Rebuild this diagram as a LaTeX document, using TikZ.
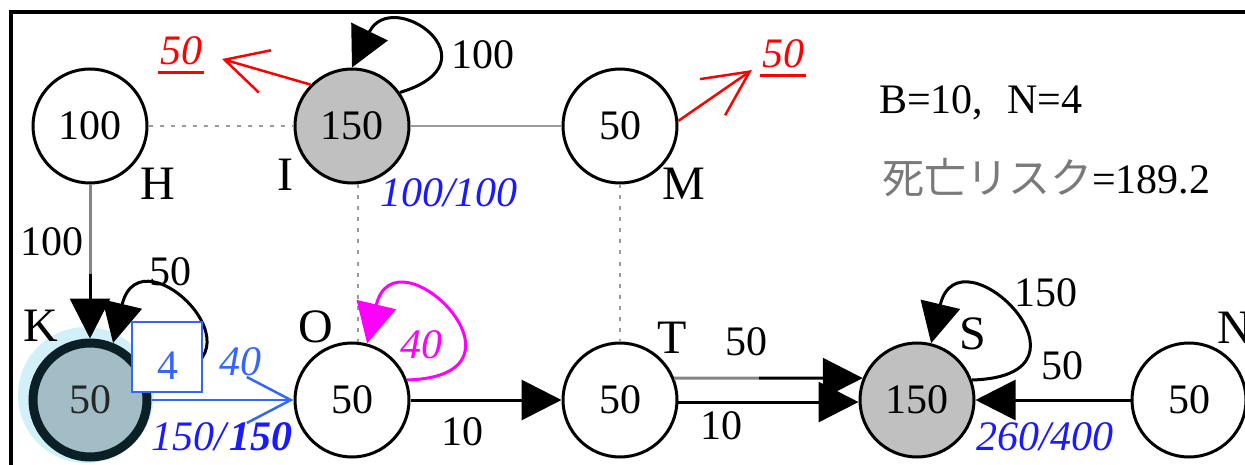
\documentclass[tikz,border=0pt]{standalone}
\usepackage{fontspec}
\setmainfont{Liberation Serif}
\newfontfamily\jpfont{Noto Sans CJK JP}
\usetikzlibrary{arrows.meta,calc}

\definecolor{nodegray}{HTML}{C0C0C0}
\definecolor{linkgray}{HTML}{9A9A9A}
\definecolor{halfgray}{HTML}{858585}
\definecolor{outred}{HTML}{FF0000}
\definecolor{loopmag}{HTML}{FF00FF}
\definecolor{flowblue}{HTML}{3366FF}
\definecolor{capblue}{HTML}{1A1AFF}
\definecolor{kfill}{HTML}{A3BDC6}
\definecolor{kring}{HTML}{0B1F26}
\definecolor{khalo}{HTML}{D2F0FA}
\definecolor{riskgray}{HTML}{7A7A7A}

\begin{document}
\begin{tikzpicture}[x=1pt,y=-1pt,
  txt/.style={font=\fontsize{42}{50}\selectfont, inner sep=0pt},
  lbl/.style={font=\fontsize{48}{56}\selectfont, inner sep=0pt},
  vert/.style={circle, draw=black, line width=3pt, fill=white,
    minimum size=114pt, inner sep=0pt, txt},
  busy/.style={vert, fill=nodegray},
  edge/.style={line width=3pt, draw=black},
  bigtip/.style={-{Triangle[length=40pt,width=40pt]}},
  link/.style={line width=2.5pt, draw=linkgray},
  dotlink/.style={link, dash pattern=on 4pt off 7pt},
  redout/.style={line width=2.5pt, draw=outred},
]
\useasboundingbox (0,0) rectangle (1245,465);
\clip (0,0) rectangle (1245,465);

% frame
\draw[line width=3.5pt] (11,12) rectangle (1280,500);

% glow behind the marked vertex K
\fill[khalo] (86,395) circle[radius=68pt];

% vertices
\node[vert] (H) at (90,126) {100};
\node[busy] (I) at (352,126) {150};
\node[vert] (M) at (620,126) {50};
\node[vert, fill=kfill, draw=kring, line width=9pt, text=black!85] (K) at (90,400) {50};
\node[vert] (O) at (352,400) {50};
\node[vert] (T) at (620,400) {50};
\node[busy] (S) at (917,400) {150};
\node[vert] (N) at (1189,400) {50};

% undirected links
\draw[dotlink] (H) -- (I);
\draw[link] (I) -- (M);
\draw[dotlink] ([xshift=6pt]I.south) -- ([xshift=6pt]O.north);
\draw[dotlink] (M) -- (T);

% H -> K
\coordinate (hk) at ($(H.south)!0.58!(K.north)$);
\draw[line width=3pt, draw=halfgray] (H.south) -- (hk);
\draw[edge, bigtip] (hk) -- (K.north);

% self loops
\draw[edge, bigtip] (K.22) .. controls ($(K.22)+(140,-4)$) and ($(K.68)+(28,-118)$) .. (K.68);
\draw[edge, bigtip] (I.35) .. controls ($(I.35)+(100,-30)$) and ($(I.north)+(40,-82)$) .. (I.north);
\draw[edge, draw=loopmag, bigtip] (O.20) .. controls ($(O.20)+(140,-4)$) and ($(O.75)+(28,-118)$) .. (O.75);
\draw[edge, bigtip] (S.20) .. controls ($(S.20)+(140,-4)$) and ($(S.76)+(28,-118)$) .. (S.76);

% directed flows
\draw[edge, bigtip] (O) -- (T);
\coordinate (ts) at ($(T.22)!0.45!(S.158)$);
\draw[line width=3pt, draw=halfgray] (T.22) -- (ts);
\draw[edge, bigtip] (ts) -- (S.158);
\draw[edge, bigtip] (T.-2) -- (S.182);
\draw[edge, bigtip] (N) -- (S);

% blue flow K -> O
\draw[line width=2.5pt, draw=flowblue, -{Straight Barb[length=44pt,width=46pt]}] (K) -- (O);

% red outflows
\coordinate (outI) at (222,59);
\coordinate (outM) at (752,70);
\draw[redout, -{Straight Barb[length=42pt,width=44pt]}] (I.135) -- (outI);
\draw[redout, -{Straight Barb[length=45pt,width=44pt]}] (M.5) -- (outM);

% counter box
\node[draw=flowblue, line width=2.5pt, fill=white, minimum width=70pt,
  minimum height=70pt, inner sep=0pt] (cnt) at (167,357) {};
\node[txt, text=flowblue] (cntval) at (168,366) {4};

% vertex names
\node[lbl] (nH) at (158,184) {H};
\node[lbl] (nI) at (285,175) {I};
\node[lbl] (nM) at (684,184) {M};
\node[lbl] (nK) at (41,326) {K};
\node[lbl] (nO) at (316,327) {O};
\node[lbl] (nT) at (672,338) {T};
\node[lbl] (nS) at (973,334) {S};
\node[lbl, anchor=west] (nN) at (1217,328) {N};

% edge amounts
\node[txt] (wHK) at (52,242) {100};
\node[txt] (wKK) at (170,272) {50};
\node[txt] (wII) at (483,55) {100};
\node[txt] (wOT) at (462,432) {10};
\node[txt] (wTSa) at (746,342) {50};
\node[txt] (wTSb) at (721,426) {10};
\node[txt] (wSS) at (1046,293) {150};
\node[txt] (wNS) at (1062,366) {50};

% outflow amounts
\node[txt, text=outred] (rI) at (181,51) {\textit{50}};
\draw[outred, line width=2.5pt] ($(rI.south west)+(-2,7)$) -- ($(rI.south east)+(2,7)$);
\node[txt, text=outred] (rM) at (783,54) {\textit{50}};
\draw[outred, line width=2.5pt] ($(rM.south west)+(-2,7)$) -- ($(rM.south east)+(2,7)$);

% blue and magenta figures
\node[txt, text=flowblue] (fKO) at (240,362) {\textit{40}};
\node[txt, text=loopmag] (fOO) at (421,345) {\textit{40}};
\node[txt, text=capblue] (capI) at (449,193) {\textit{100/100}};
\node[txt, text=capblue] (capK) at (222,437) {\textit{150/}\textbf{\textit{150}}};
\node[txt, text=capblue] (capS) at (1045,437) {\textit{260/400}};

% parameters
\node[txt, anchor=west] (params) at (879,103) {B=10,\hspace{24pt}N=4};
\node[txt, anchor=west] (risk) at (882,178) {{\jpfont\color{riskgray}死亡リスク}=189.2};
\end{tikzpicture}
\end{document}
